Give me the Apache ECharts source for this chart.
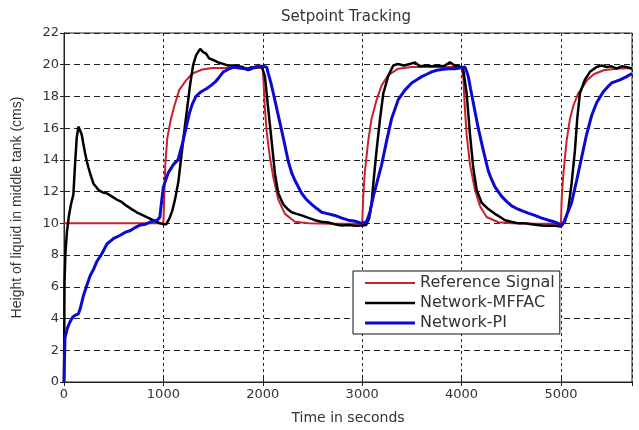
<!DOCTYPE html>
<html>
<head>
<meta charset="utf-8">
<script src="https://cdn.jsdelivr.net/npm/echarts@6/dist/echarts.min.js"></script>
<style>html,body{margin:0;padding:0;background:#fff;}#c{width:639px;height:430px;}</style>
</head>
<body>
<div id="c"></div>
<script>
// ---- data ----
const seriesNames = ['Reference Signal', 'Network-MFFAC', 'Network-PI'];
const xTicks = [0, 1000, 2000, 3000, 4000, 5000];
const yTicks = [0, 2, 4, 6, 8, 10, 12, 14, 16, 18, 20, 22];

const refT = [0, 1000, 1008, 1020, 1040, 1076, 1110, 1159, 1226, 1292, 1392, 1491, 1700, 2000,
  2005, 2022, 2039, 2072, 2106, 2156, 2223, 2324, 2458, 2700, 3000,
  3011, 3028, 3061, 3095, 3146, 3196, 3263, 3363, 3498, 3750, 4000,
  4017, 4034, 4051, 4085, 4135, 4185, 4252, 4369, 4503, 4750, 5000,
  5007, 5024, 5057, 5091, 5124, 5174, 5208, 5260, 5330, 5430, 5550, 5715];
const refV = [10, 10, 11.5, 13.8, 15.4, 16.6, 17.4, 18.4, 19.0, 19.45, 19.7, 19.8, 19.8, 19.8,
  19.2, 17.2, 15.8, 14.15, 12.9, 11.5, 10.6, 10.1, 10.0, 9.97, 9.97,
  11.7, 13.3, 15.2, 16.6, 17.8, 18.7, 19.35, 19.75, 19.85, 19.85, 19.85,
  19.2, 17.2, 15.6, 13.7, 12.1, 11.1, 10.4, 10.07, 10.0, 9.97, 9.97,
  11.5, 13.1, 15.2, 16.6, 17.4, 18.2, 18.5, 19.0, 19.4, 19.65, 19.75, 19.8];

const mffacT = [0, 5, 15, 30, 50, 70, 94, 111, 128, 145, 160, 178, 195, 213, 230, 247, 270, 297, 348, 390, 430, 480, 530, 580, 631, 680, 731, 780, 832, 898, 966, 1000,
  1030, 1060, 1090, 1120, 1150, 1180, 1210, 1240, 1270, 1300, 1330, 1370, 1400, 1430, 1460, 1500, 1550, 1600, 1650, 1700, 1750, 1800, 1850, 1880, 1920, 1960, 1989,
  2022, 2055, 2089, 2123, 2156, 2206, 2250, 2290, 2340, 2391, 2460, 2525, 2590, 2659, 2720, 2793, 2860, 2928, 2995,
  3040, 3070, 3095, 3115, 3145, 3180, 3213, 3263, 3313, 3360, 3420, 3480, 3531, 3580, 3640, 3700, 3760, 3820, 3883, 3930, 3970, 4000,
  4017, 4051, 4085, 4118, 4152, 4202, 4269, 4336, 4400, 4437, 4500, 4571, 4640, 4700, 4760, 4806, 4870, 4940, 5000,
  5040, 5074, 5107, 5141, 5164, 5191, 5241, 5292, 5359, 5410, 5460, 5510, 5560, 5610, 5661, 5715];
const mffacV = [0, 6.3, 8.2, 9.5, 10.5, 11.2, 11.8, 13.7, 15.4, 16.1, 16.2, 15.6, 15.0, 14.4, 13.9, 13.5, 13.0, 12.5, 12.1, 11.95, 11.9, 11.7, 11.5, 11.35, 11.1, 10.9, 10.7, 10.55, 10.4, 10.2, 10.0, 9.95,
  9.95, 10.3, 10.8, 11.6, 12.6, 14.2, 15.8, 17.3, 18.8, 20.0, 20.6, 21.0, 20.8, 20.7, 20.4, 20.3, 20.15, 20.05, 19.95, 19.95, 19.9, 19.85, 19.65, 19.85, 19.8, 19.9, 19.9,
  19.25, 17.2, 15.2, 13.1, 11.9, 11.2, 10.9, 10.7, 10.6, 10.5, 10.35, 10.2, 10.1, 10.05, 9.95, 9.87, 9.9, 9.85, 9.87,
  9.9, 10.3, 11.3, 12.7, 14.6, 16.6, 18.2, 19.3, 19.95, 20.05, 19.95, 20.05, 20.15, 19.9, 19.95, 19.9, 19.95, 19.9, 20.15, 19.95, 19.9, 19.85,
  19.7, 18.2, 15.6, 13.5, 12.1, 11.3, 10.9, 10.6, 10.35, 10.2, 10.1, 10.0, 10.0, 9.95, 9.9, 9.87, 9.85, 9.85, 9.8,
  10.1, 10.9, 12.5, 14.6, 16.6, 18.2, 19.05, 19.55, 19.86, 19.95, 19.86, 19.9, 19.75, 19.9, 19.86, 19.75];

const piT = [0, 5, 10, 34, 61, 88, 111, 145, 162, 196, 230, 263, 297, 331, 382, 432, 500, 567, 620, 669, 720, 770, 820, 872, 939, 965, 975, 990, 1000,
  1050, 1100, 1147, 1190, 1227, 1260, 1290, 1328, 1380, 1436, 1480, 1519, 1560, 1603, 1650, 1703, 1760, 1820, 1871, 1920, 1972, 2000, 2039,
  2055, 2080, 2106, 2156, 2206, 2257, 2290, 2324, 2391, 2440, 2492, 2540, 2593, 2660, 2726, 2790, 2861, 2920, 2961, 2995,
  3045, 3078, 3112, 3146, 3196, 3246, 3296, 3363, 3430, 3498, 3550, 3599, 3650, 3699, 3750, 3800, 3870, 3934, 3980, 4034,
  4050, 4068, 4090, 4118, 4168, 4219, 4269, 4300, 4336, 4403, 4450, 4504, 4550, 4605, 4670, 4738, 4800, 4872, 4930, 4973, 5000,
  5030, 5057, 5107, 5158, 5208, 5258, 5309, 5359, 5426, 5470, 5510, 5594, 5661, 5715];
const piV = [0, 1.5, 2.8, 3.4, 3.8, 4.1, 4.2, 4.3, 4.6, 5.45, 6.1, 6.7, 7.1, 7.6, 8.1, 8.7, 9.05, 9.25, 9.45, 9.55, 9.75, 9.9, 9.95, 10.1, 10.2, 10.4, 11.0, 11.8, 12.3,
  13.2, 13.7, 14.0, 15.0, 16.0, 16.9, 17.5, 18.0, 18.3, 18.5, 18.7, 18.9, 19.2, 19.55, 19.7, 19.85, 19.8, 19.75, 19.7, 19.85, 19.9, 19.9, 19.85,
  19.45, 18.9, 18.2, 16.8, 15.4, 13.9, 13.2, 12.7, 11.9, 11.5, 11.2, 10.95, 10.7, 10.6, 10.5, 10.35, 10.2, 10.15, 10.07, 10.0,
  10.1, 10.7, 11.7, 12.5, 13.7, 15.2, 16.6, 17.8, 18.4, 18.85, 19.05, 19.25, 19.4, 19.55, 19.65, 19.7, 19.75, 19.75, 19.8, 19.86,
  19.6, 19.25, 18.5, 17.6, 16.0, 14.6, 13.3, 12.8, 12.3, 11.7, 11.4, 11.1, 10.95, 10.8, 10.65, 10.5, 10.35, 10.2, 10.1, 10.0, 9.85,
  10.1, 10.5, 11.3, 12.7, 14.15, 15.6, 16.8, 17.6, 18.3, 18.6, 18.85, 19.05, 19.25, 19.45];

function pairs(t, v) { return t.map((x, i) => [x, v[i]]); }

const FONT = 'DejaVu Sans';
const colors = ['#c8232c', '#000000', '#0a0ad2'];
const widths = [2, 2.5, 3];
const lineIcon = h => 'path://M0,0L100,0L100,' + (h * 2) + 'L0,' + (h * 2) + 'Z';

const chart = echarts.init(document.getElementById('c'), null, { renderer: 'canvas' });
const xMin = 0, xMax = 5715;
chart.setOption({
  animation: false,
  backgroundColor: '#fff',
  title: {
    text: 'Setpoint Tracking', left: 281, top: 10, padding: 0,
    textStyle: { fontFamily: FONT, fontSize: 15, fontWeight: 'normal', color: '#333' }
  },
  grid: { left: 64, right: 7, top: 33, bottom: 37, show: true, borderColor: '#222', borderWidth: 1, backgroundColor: '#fff' },
  legend: {
    orient: 'vertical', left: 353, top: 271,
    data: seriesNames.map((n, i) => ({ name: n, icon: lineIcon(widths[i]) })),
    backgroundColor: '#fff', borderColor: '#111', borderWidth: 1, borderRadius: 0,
    padding: [4, 5, 3, 12],
    itemWidth: 50, itemHeight: 14, itemGap: 4,
    symbolKeepAspect: true,
    textStyle: { fontFamily: FONT, fontSize: 16, color: '#333' }
  },
  xAxis: [{
    type: 'value', min: xMin, max: xMax, interval: 1000,
    name: 'Time in seconds', nameLocation: 'middle', nameGap: 29,
    nameTextStyle: { fontFamily: FONT, fontSize: 14, color: '#333' },
    axisLine: { show: true, lineStyle: { color: '#222', width: 1 } },
    axisTick: { show: true, inside: true, length: 4, lineStyle: { color: '#222' } },
    axisLabel: { margin: 6, fontFamily: FONT, fontSize: 13, color: '#333', showMaxLabel: false,
      formatter: v => xTicks.indexOf(v) >= 0 ? String(v) : '' },
    splitLine: { show: true, lineStyle: { color: '#222', width: 1, type: [3, 3] } }
  }, {
    type: 'value', min: xMin, max: xMax, interval: 1000, position: 'top',
    axisLine: { show: true, lineStyle: { color: '#222', width: 1 } },
    axisTick: { show: true, inside: true, length: 4, lineStyle: { color: '#222' } },
    axisLabel: { show: false }, splitLine: { show: false }
  }],
  yAxis: [{
    type: 'value', min: 0, max: 22, interval: 2,
    name: 'Height of liquid in middle tank (cms)', nameLocation: 'middle', nameGap: 40,
    nameTextStyle: { fontFamily: 'Liberation Sans', fontSize: 14, color: '#333' },
    axisLine: { show: true, lineStyle: { color: '#222', width: 1 } },
    axisTick: { show: true, inside: true, length: 4, lineStyle: { color: '#222' } },
    axisLabel: { margin: 5, fontFamily: FONT, fontSize: 13, color: '#333',
      formatter: v => yTicks.indexOf(v) >= 0 ? String(v) : '' },
    splitLine: { show: true, lineStyle: { color: '#222', width: 1, type: [6, 4] } }
  }, {
    type: 'value', min: 0, max: 22, interval: 2, position: 'right',
    axisLine: { show: true, lineStyle: { color: '#222', width: 1 } },
    axisTick: { show: true, inside: true, length: 4, lineStyle: { color: '#222' } },
    axisLabel: { show: false }, splitLine: { show: false }
  }],
  series: [
    { name: seriesNames[0], type: 'line', xAxisIndex: 0, yAxisIndex: 0, symbol: 'none', data: pairs(refT, refV),
      lineStyle: { color: colors[0], width: widths[0] }, itemStyle: { color: colors[0] } },
    { name: seriesNames[1], type: 'line', xAxisIndex: 0, yAxisIndex: 0, symbol: 'none', data: pairs(mffacT, mffacV),
      lineStyle: { color: colors[1], width: widths[1] }, itemStyle: { color: colors[1] } },
    { name: seriesNames[2], type: 'line', xAxisIndex: 0, yAxisIndex: 0, symbol: 'none', data: pairs(piT, piV),
      lineStyle: { color: colors[2], width: widths[2] }, itemStyle: { color: colors[2] } }
  ]
});
</script>
</body>
</html>
